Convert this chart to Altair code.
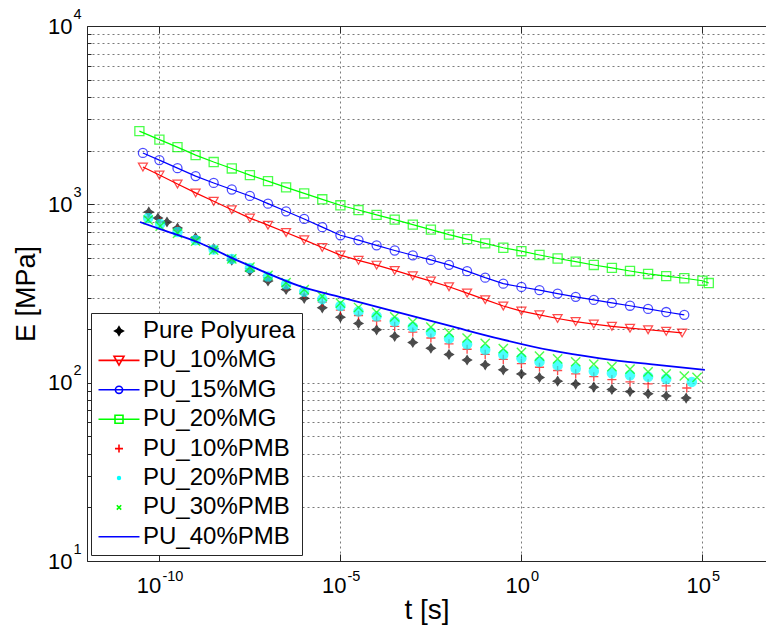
import altair as alt
import pandas as pd

# ---------------- data ----------------
SERIES = ["Pure Polyurea", "PU_10%MG", "PU_15%MG", "PU_20%MG",
          "PU_10%PMB", "PU_20%PMB", "PU_30%PMB", "PU_40%PMB"]
COLORS = ["#000000", "#ff0000", "#0000ff", "#00ff00",
          "#ff0000", "#00ffff", "#00ff00", "#0000ff"]

t_pure = [5.1e-11, 9.1e-11, 1.62e-10, 3.16e-10, 1e-9, 3.16e-9, 1e-8, 3.16e-8, 1e-7, 3.16e-7,
          1e-6, 3.16e-6, 1e-5, 3.16e-5, 1e-4, 3.16e-4, 1e-3, 3.16e-3, 1e-2, 3.16e-2, 0.1, 0.316,
          1, 3.16, 10, 31.6, 100, 316, 1000, 3160, 1e4, 3.55e4]
E_pure = [906, 838, 796, 736, 650, 564, 486, 423, 372, 333, 297, 263, 233, 215, 198, 182,
          168, 156, 144, 134, 126, 118, 112, 107, 102, 98.2, 94.4, 91.6, 89.1, 86.7, 84.3, 82.0]

t_10mg = [3.5e-11, 1e-10, 3.16e-10, 1e-9, 3.16e-9, 1e-8, 3.16e-8, 1e-7, 3.16e-7, 1e-6, 3.16e-6,
          1e-5, 3.16e-5, 1e-4, 3.16e-4, 1e-3, 3.16e-3, 1e-2, 3.16e-2, 0.1, 0.316, 1, 3.16, 10,
          31.6, 100, 316, 1000, 3160, 1e4, 2.75e4]
E_10mg = [1618, 1459, 1300, 1159, 1040, 933, 837, 764, 695, 632, 573, 519, 485, 456, 426, 397,
          371, 345, 318, 292, 269, 252, 240, 229, 220, 213, 207, 202, 198, 194, 190]

t_15mg = [3.5e-11, 1e-10, 3.16e-10, 1e-9, 3.16e-9, 1e-8, 3.16e-8, 1e-7, 3.16e-7, 1e-6, 3.16e-6,
          1e-5, 3.16e-5, 1e-4, 3.16e-4, 1e-3, 3.16e-3, 1e-2, 3.16e-2, 0.1, 0.316, 1, 3.16, 10,
          31.6, 100, 316, 1000, 3160, 1e4, 3.16e4]
E_15mg = [1941, 1770, 1596, 1440, 1318, 1211, 1114, 1009, 914, 828, 745, 671, 630, 589, 551, 518,
          488, 458, 422, 388, 359, 344, 330, 316, 303, 291, 280, 270, 259, 249, 240]

t_20mg = [2.8e-11, 1e-10, 3.16e-10, 1e-9, 3.16e-9, 1e-8, 3.16e-8, 1e-7, 3.16e-7, 1e-6, 3.16e-6,
          1e-5, 3.16e-5, 1e-4, 3.16e-4, 1e-3, 3.16e-3, 1e-2, 3.16e-2, 0.1, 0.316, 1, 3.16, 10,
          31.6, 100, 316, 1000, 3160, 1e4, 3.16e4, 1e5, 1.5e5]
E_20mg = [2575, 2307, 2094, 1888, 1726, 1589, 1459, 1349, 1245, 1151, 1067, 988, 929, 873, 821,
          769, 721, 676, 638, 604, 571, 546, 520, 497, 477, 457, 440, 423, 407, 396, 385, 373, 362]

t_10pmb = [4.9e-11, 1.05e-10, 3.16e-10, 1e-9, 3.16e-9, 1e-8, 3.16e-8, 1e-7, 3.16e-7, 1e-6,
           3.16e-6, 1e-5, 3.16e-5, 1e-4, 3.16e-4, 1e-3, 3.16e-3, 1e-2, 3.16e-2, 0.1, 0.316, 1,
           3.16, 10, 31.6, 100, 316, 1000, 3160, 1e4, 3.7e4]
E_10pmb = [849, 796, 714, 640, 564, 493, 436, 388, 349, 314, 283, 255, 238, 222, 207, 192, 178,
           165, 154, 144, 135, 128, 122, 117, 112, 108, 104, 101, 98.4, 95.9, 93.3]

t_20pmb = [4.9e-11, 1.05e-10, 3.16e-10, 1e-9, 3.16e-9, 1e-8, 3.16e-8, 1e-7, 3.16e-7, 1e-6,
           3.16e-6, 1e-5, 3.16e-5, 1e-4, 3.16e-4, 1e-3, 3.16e-3, 1e-2, 3.16e-2, 0.1, 0.316, 1,
           3.16, 10, 31.6, 100, 316, 1000, 3160, 1e4, 5.1e4]
E_20pmb = [838, 775, 700, 630, 558, 494, 440, 394, 356, 324, 294, 269, 251, 236, 220, 205, 191,
           177, 164, 153, 144, 137, 131, 125, 120, 116, 113, 110, 108, 105, 101]

t_30pmb = [4.9e-11, 1.05e-10, 3.16e-10, 1e-9, 3.16e-9, 1e-8, 3.16e-8, 1e-7, 3.16e-7, 1e-6,
           3.16e-6, 1e-5, 3.16e-5, 1e-4, 3.16e-4, 1e-3, 3.16e-3, 1e-2, 3.16e-2, 0.1, 0.316, 1,
           3.16, 10, 31.6, 100, 316, 1000, 3160, 1e4, 3.16e4, 7.1e4]
E_30pmb = [817, 755, 687, 622, 554, 494, 444, 400, 364, 333, 305, 279, 264, 248, 234, 219, 205,
           191, 178, 166, 155, 148, 141, 136, 131, 127, 123, 119, 115, 112, 109, 107]

t_40pmb = [2.9e-11, 1.05e-10, 1.32e-9, 8.9e-9, 6.0e-8, 7.6e-7, 9.8e-6, 4.5e-4, 1.07e-2, 0.257,
           6.2, 148, 3550, 1.17e5]
E_40pmb = [796, 727, 607, 506, 428, 348, 302, 246, 208, 176, 152, 137, 127, 118]

X_MAJOR = [1e-10, 1e-5, 1, 1e5]
Y_MAJOR = [10, 100, 1000, 10000]
Y_MINOR = [20, 30, 40, 50, 60, 70, 80, 90,
           200, 300, 400, 500, 600, 700, 800, 900,
           2000, 3000, 4000, 5000, 6000, 7000, 8000, 9000]

T_ALL = [t_pure, t_10mg, t_15mg, t_20mg, t_10pmb, t_20pmb, t_30pmb, t_40pmb]
E_ALL = [E_pure, E_10mg, E_15mg, E_20mg, E_10pmb, E_20pmb, E_30pmb, E_40pmb]

rows = []
for name, ts, es in zip(SERIES, T_ALL, E_ALL):
    for i, (t, e) in enumerate(zip(ts, es)):
        rows.append({"series": name, "t": t, "E": e, "idx": i})
df = pd.DataFrame(rows)

# ---------------- styling ----------------
W, H = 679, 535
FONT = "Liberation Sans"
DARK = "#262626"
GRID = "#7a7a7a"

x_scale = alt.Scale(type="log", domain=[1e-12, 5.71e6], nice=False)
y_scale = alt.Scale(type="log", domain=[10, 10000], nice=False)

# MATLAB style 10^n labels: mantissa "10" and a raised exponent
x_exp_expr = "datum.value < 1e-7 ? '-10' : (datum.value < 1e-2 ? '-5' : (datum.value < 10 ? '0' : '5'))"
y_base_expr = "datum.value == 10 || datum.value == 100 || datum.value == 1000 || datum.value == 10000 ? '10' : ''"
y_exp_expr = ("datum.value == 10 ? '1' : (datum.value == 100 ? '2' : "
              "(datum.value == 1000 ? '3' : (datum.value == 10000 ? '4' : '')))")

base = alt.Chart(df)

axes_main = base.mark_point(opacity=0).encode(
    x=alt.X("t:Q", scale=x_scale, title="t [s]",
            axis=alt.Axis(orient="bottom", values=X_MAJOR,
                          labelExpr="datum.value >= 1 ? '10' : ''",
                          grid=True, gridDash=[2, 3], gridColor=GRID, gridWidth=1,
                          ticks=False, tickSize=0, domain=True, domainColor=DARK,
                          labelFont=FONT, labelFontSize=22, labelColor="black",
                          labelAlign="center", labelBaseline="middle", labelOffset=-4.15,
                          labelPadding=24.5, labelFlush=False, labelOverlap=False,
                          titleFont=FONT, titleFontSize=28, titleFontWeight="normal",
                          titleColor="black", titlePadding=0, zindex=0)),
    y=alt.Y("E:Q", scale=y_scale, title="E [MPa]",
            axis=alt.Axis(orient="left", values=Y_MAJOR + Y_MINOR, labelExpr=y_base_expr,
                          grid=True, gridDash=[2, 3], gridColor=GRID, gridWidth=1,
                          ticks=False, tickSize=0, domain=True, domainColor=DARK,
                          labelFont=FONT, labelFontSize=22, labelColor="black",
                          labelAlign="right", labelBaseline="middle",
                          labelPadding=15, labelFlush=False, labelOverlap=False,
                          titleFont=FONT, titleFontSize=27, titleFontWeight="normal",
                          titleColor="black", titlePadding=7, zindex=0)),
)


def x_mantissa(values, shift):
    return base.mark_point(opacity=0).encode(
        x=alt.X("t:Q", scale=x_scale, title="",
                axis=alt.Axis(orient="bottom", values=values, labelExpr="'10'",
                              grid=False, ticks=False, tickSize=0, domain=False,
                              labelFont=FONT, labelFontSize=22, labelColor="black",
                              labelAlign="center", labelBaseline="middle", labelOffset=shift,
                              labelPadding=24.5, labelFlush=False, labelOverlap=False)),
    )


x_lab_m10 = x_mantissa([1e-10], -10.85)
x_lab_m5 = x_mantissa([1e-5], -6.65)

axes_exp = base.mark_point(opacity=0).encode(
    x=alt.X("t:Q", scale=x_scale, title="",
            axis=alt.Axis(orient="bottom", values=X_MAJOR, labelExpr=x_exp_expr,
                          grid=False, ticks=False, tickSize=0, domain=False,
                          labelFont=FONT, labelFontSize=14.5, labelColor="black",
                          labelAlign="center", labelBaseline="middle", labelOffset=13,
                          labelPadding=15.5, labelFlush=False, labelOverlap=False)),
    y=alt.Y("E:Q", scale=y_scale, title="",
            axis=alt.Axis(orient="left", values=Y_MAJOR, labelExpr=y_exp_expr,
                          grid=False, ticks=False, tickSize=0, domain=False,
                          labelFont=FONT, labelFontSize=14.5, labelColor="black",
                          labelAlign="left", labelBaseline="middle", labelOffset=-12,
                          labelPadding=14, labelFlush=False, labelOverlap=False)),
)

axis_top = base.mark_point(opacity=0).encode(
    x=alt.X("t:Q", scale=x_scale, title="",
            axis=alt.Axis(orient="bottom", offset=-H, values=X_MAJOR, labels=False,
                          grid=False, ticks=True, tickSize=7, tickColor=DARK,
                          domain=True, domainColor=DARK)),
)
axis_bottom_ticks = base.mark_point(opacity=0).encode(
    x=alt.X("t:Q", scale=x_scale, title="",
            axis=alt.Axis(orient="top", offset=-H, values=X_MAJOR, labels=False,
                          grid=False, ticks=True, tickSize=7, tickColor=DARK, domain=False)),
)
axis_left_major = base.mark_point(opacity=0).encode(
    y=alt.Y("E:Q", scale=y_scale, title="",
            axis=alt.Axis(orient="right", offset=-W, values=Y_MAJOR, labels=False,
                          grid=False, ticks=True, tickSize=7, tickColor=DARK, domain=False)),
)
axis_left_minor = base.mark_point(opacity=0).encode(
    y=alt.Y("E:Q", scale=y_scale, title="",
            axis=alt.Axis(orient="right", offset=-W, values=Y_MINOR, labels=False,
                          grid=False, ticks=True, tickSize=4, tickColor=DARK, domain=False)),
)

MG = ["PU_10%MG", "PU_15%MG", "PU_20%MG"]
lines_mg = base.transform_filter(
    alt.FieldOneOfPredicate(field="series", oneOf=MG)
).mark_line(strokeWidth=1.2).encode(
    x=alt.X("t:Q", scale=x_scale, axis=None),
    y=alt.Y("E:Q", scale=y_scale, axis=None),
    color=alt.Color("series:N", scale=alt.Scale(domain=MG, range=["#ff0000", "#0000ff", "#00ff00"]),
                    legend=None),
    order="idx:Q",
)

PT_SERIES = SERIES[:7]
STAR = "M0,-1L0.38,-0.38L1,0L0.38,0.38L0,1L-0.38,0.38L-1,0L-0.38,-0.38Z"
PLUS = "M-1,0L1,0M0,-1L0,1"
XMARK = "M-1,-1L1,1M-1,1L1,-1"
PT_SHAPES = [STAR, "triangle-down", "circle", "square", PLUS, "circle", XMARK]
PT_FILLS = ["#000000", "transparent", "transparent", "transparent", "transparent", "#00ffff", "transparent"]
PT_STROKES = COLORS[:7]
PT_SIZES = [80, 85, 60, 75, 80, 24, 45]
PT_WIDTHS = [1.2, 1.4, 1.4, 1.4, 2.0, 1, 2.0]

points = base.transform_filter(
    alt.FieldOneOfPredicate(field="series", oneOf=PT_SERIES)
).mark_point().encode(
    x=alt.X("t:Q", scale=x_scale, axis=None),
    y=alt.Y("E:Q", scale=y_scale, axis=None),
    shape=alt.Shape("series:N", scale=alt.Scale(domain=PT_SERIES, range=PT_SHAPES), legend=None),
    fill=alt.Fill("series:N", scale=alt.Scale(domain=PT_SERIES, range=PT_FILLS), legend=None),
    stroke=alt.Stroke("series:N", scale=alt.Scale(domain=PT_SERIES, range=PT_STROKES), legend=None),
    size=alt.Size("series:N", scale=alt.Scale(domain=PT_SERIES, range=PT_SIZES), legend=None),
    strokeWidth=alt.StrokeWidth("series:N", scale=alt.Scale(domain=PT_SERIES, range=PT_WIDTHS),
                                legend=None),
)

line_40 = base.transform_filter(
    alt.datum.series == "PU_40%PMB"
).mark_line(strokeWidth=1.8, color="#0000ff", interpolate="monotone").encode(
    x=alt.X("t:Q", scale=x_scale, axis=None),
    y=alt.Y("E:Q", scale=y_scale, axis=None),
    order="idx:Q",
)

# legend (symbols drawn as line + marker paths)
LN = "M-2.05,0L2.05,0"
LEG_SHAPES = [
    "M0,-0.42L0.15,-0.15L0.42,0L0.15,0.15L0,0.42L-0.15,0.15L-0.42,0L-0.15,-0.15Z",
    LN + "M-0.5,-0.42L0.5,-0.42L0,0.48Z",
    LN + "M0.36,0A0.36,0.36 0 1,1 -0.36,0A0.36,0.36 0 1,1 0.36,0Z",
    LN + "M-0.4,-0.4L0.4,-0.4L0.4,0.4L-0.4,0.4Z",
    "M-0.4,0L0.4,0M0,-0.4L0,0.4",
    "M0.14,0A0.14,0.14 0 1,1 -0.14,0A0.14,0.14 0 1,1 0.14,0Z",
    "M-0.22,-0.22L0.22,0.22M-0.22,0.22L0.22,-0.22",
    LN,
]
LEG_FILLS = ["#000000", "transparent", "transparent", "transparent",
             "transparent", "#00ffff", "transparent", "transparent"]

leg = alt.Legend(orient="none", legendX=4, legendY=287, padding=6,
                 symbolSize=400, symbolOffset=10, labelOffset=12, symbolStrokeWidth=1.6,
                 symbolOpacity=1, labelFont=FONT, labelFontSize=24, labelColor="black",
                 labelLimit=0, rowPadding=5.4, strokeColor="#262626", fillColor="white",
                 cornerRadius=0, direction="vertical")

legend_layer = alt.Chart(pd.DataFrame({"series": SERIES})).mark_point(opacity=0).encode(
    shape=alt.Shape("series:N", title=None, scale=alt.Scale(domain=SERIES, range=LEG_SHAPES), legend=leg),
    fill=alt.Fill("series:N", title=None, scale=alt.Scale(domain=SERIES, range=LEG_FILLS), legend=leg),
    stroke=alt.Stroke("series:N", title=None, scale=alt.Scale(domain=SERIES, range=COLORS), legend=leg),
)

chart = alt.layer(
    axes_main, x_lab_m10, x_lab_m5, axes_exp, axis_top, axis_bottom_ticks,
    axis_left_major, axis_left_minor,
    lines_mg, points, line_40, legend_layer,
).resolve_scale(
    shape="independent", fill="independent", stroke="independent",
    size="independent", strokeWidth="independent", color="independent",
).resolve_axis(
    x="independent", y="independent",
).properties(
    width=W, height=H,
    padding={"left": 87, "top": 26, "right": 0, "bottom": 69},
    autosize=alt.AutoSizeParams(type="none"),
    background="white",
).configure_view(strokeWidth=0)

chart.save("out.html", embed_options={"renderer": "svg", "actions": False})
